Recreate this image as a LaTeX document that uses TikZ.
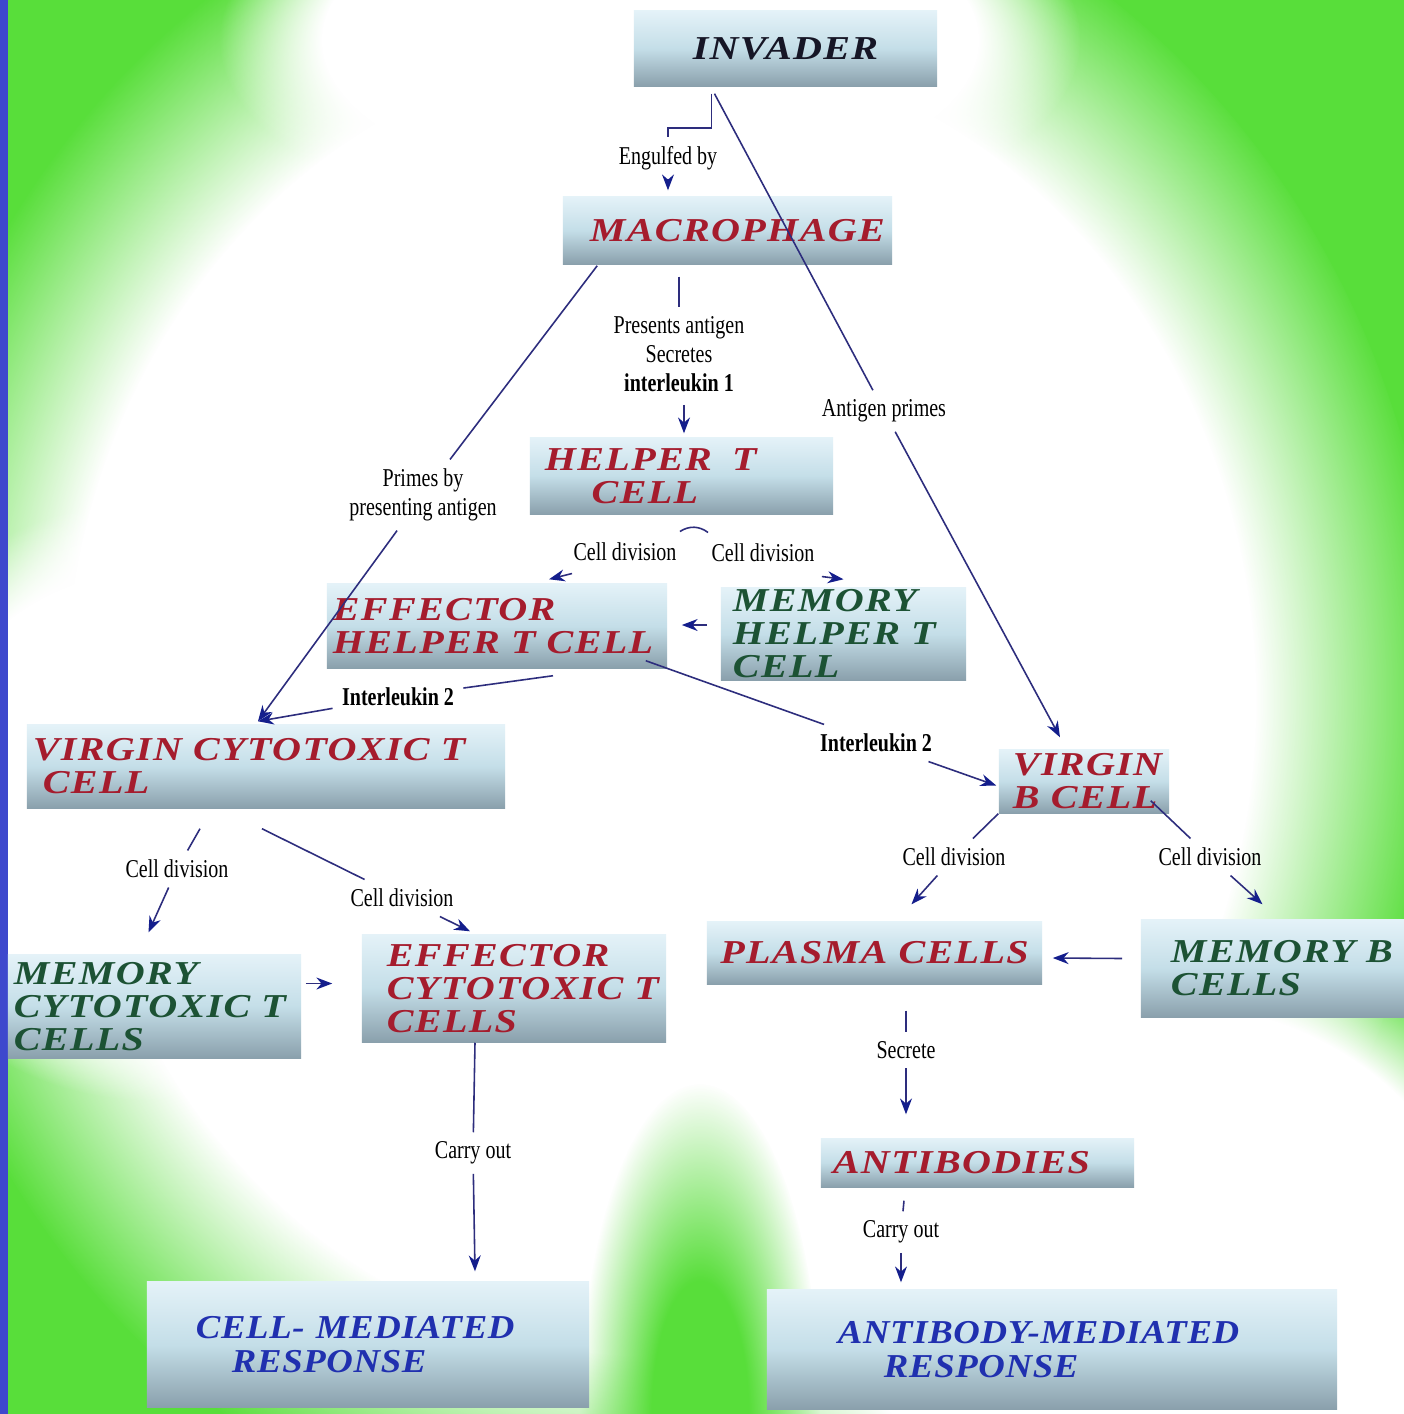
\documentclass[tikz,border=0pt]{standalone}
\usepackage{fontspec}
\setmainfont{Liberation Serif}
\newfontfamily\cellfont[LetterSpace=4,FakeStretch=1.2]{Liberation Serif}
\newfontfamily\respfont[LetterSpace=2,FakeStretch=1.1]{Liberation Serif}
\newfontfamily\notefont[FakeStretch=0.78]{Liberation Serif}
\usetikzlibrary{arrows.meta, positioning, calc, fadings}
\definecolor{bggreen}{RGB}{88,222,58}
\definecolor{edgeblue}{RGB}{62,72,205}
\definecolor{boxtop}{RGB}{228,242,248}
\definecolor{boxmid}{RGB}{196,222,232}
\definecolor{boxbot}{RGB}{138,160,172}
\definecolor{cellred}{RGB}{165,28,45}
\definecolor{cellgreen}{RGB}{28,82,52}
\definecolor{cellblue}{RGB}{32,48,175}
\definecolor{cellblack}{RGB}{22,22,38}
\definecolor{linknavy}{RGB}{45,45,125}
\definecolor{tipnavy}{RGB}{20,30,140}
\pgfdeclareradialshading{plateau}{\pgfpoint{0bp}{0bp}}{color(0bp)=(white); color(19bp)=(white); color(25bp)=(black); color(50bp)=(black)}
\pgfdeclarefading{plateaufade}{\pgfuseshading{plateau}}
\pgfdeclareradialshading{softspot}{\pgfpoint{0bp}{0bp}}{color(0bp)=(white); color(10bp)=(white); color(25bp)=(black); color(50bp)=(black)}
\pgfdeclarefading{softfade}{\pgfuseshading{softspot}}

\begin{document}
\begin{tikzpicture}[x=0.01cm, y=-0.01cm,
        cell/.style={rectangle, top color=boxtop, bottom color=boxbot, middle color=boxmid, align=left, inner ysep=0pt, font=\cellfont\bfseries\itshape\fontsize{9.5}{9.4}\selectfont},
        resp/.style={cell, font=\respfont\bfseries\itshape\fontsize{9.5}{9.6}\selectfont, text=cellblue},
        note/.style={font=\notefont\fontsize{7.3}{8.2}\selectfont, align=center, inner sep=2.5pt},
        notebf/.style={note, font=\notefont\bfseries\fontsize{7.3}{8.2}\selectfont},
        glowspot/.style={fill=white, path fading=plateaufade},
        link/.style={draw=linknavy, line width=0.45pt},
        arrow/.style={link, -{Stealth[length=4.5pt, width=3.4pt, color=tipnavy]}}
    ]
        \useasboundingbox (0,0) rectangle (1404,1414);
        % background: green with a white glow
        \fill[bggreen] (0,0) rectangle (1404,1414);
        \path[glowspot] (660,700) ellipse (780 and 860);
        \path[glowspot] (650,40) ellipse (430 and 200);
        \path[glowspot] (150,800) ellipse (300 and 300);
        \path[glowspot] (1150,1260) ellipse (420 and 340);
        \fill[bggreen, path fading=softfade] (700,1414) ellipse (120 and 330);
        \fill[edgeblue] (0,0) rectangle (8,1414);

        % cells
        \node[cell, text=cellblack, align=center, inner xsep=0.1cm, text width=2.83cm, minimum height=0.75cm] (invader) at (785.5,48.5) {INVADER};
        \node[cell, text=cellred, inner xsep=0.27cm, text width=2.75cm, minimum height=0.67cm] (macro) at (727.5,230.5) {MACROPHAGE};
        \node[cell, text=cellred, inner xsep=0.15cm, text width=2.73cm, minimum height=0.76cm] (helper) at (681.5,476) {HELPER\hspace{0.6em}T\\\hspace*{1.4em}CELL};
        \node[cell, text=cellred, inner xsep=0.06cm, text width=3.28cm, minimum height=0.84cm] (effhelp) at (497,626) {EFFECTOR\\HELPER~T~CELL};
        \node[cell, text=cellgreen, inner xsep=0.12cm, text width=2.21cm, minimum height=0.92cm] (memhelp) at (843.5,634) {MEMORY\\HELPER~T\\CELL};
        \node[cell, text=cellred, inner xsep=0.06cm, text width=4.66cm, minimum height=0.83cm] (vct) at (266,766.5) {VIRGIN~CYTOTOXIC~T\\\hspace*{0.3em}CELL};
        \node[cell, text=cellred, inner xsep=0.14cm, text width=1.42cm, minimum height=0.63cm] (vb) at (1084,781.5) {VIRGIN\\B~CELL};
        \node[cell, text=cellred, align=center, inner xsep=0.1cm, text width=3.15cm, minimum height=0.62cm] (plasma) at (874.5,953) {PLASMA~CELLS};
        \node[cell, text=cellgreen, inner xsep=0.3cm, text width=2.03cm, minimum height=0.97cm] (memb) at (1272.5,968.5) {MEMORY~B\\CELLS};
        \node[cell, text=cellgreen, inner xsep=0.06cm, text width=2.81cm, minimum height=1.03cm] (mct) at (154.5,1006.5) {MEMORY\\CYTOTOXIC~T\\CELLS};
        \node[cell, text=cellred, inner xsep=0.25cm, text width=2.54cm, minimum height=1.07cm] (ect) at (514,988.5) {EFFECTOR\\CYTOTOXIC~T\\CELLS};
        \node[cell, text=cellred, inner xsep=0.12cm, text width=2.89cm, minimum height=0.49cm] (antib) at (977.5,1162.5) {ANTIBODIES};
        \node[resp, inner xsep=0.49cm, text width=3.44cm, minimum height=1.25cm] (cmr) at (368,1344.5) {CELL-~MEDIATED\\\hspace*{0.36cm}RESPONSE};
        \node[resp, inner xsep=0.71cm, text width=4.28cm, minimum height=1.19cm] (amr) at (1052,1349.5) {ANTIBODY-MEDIATED\\\hspace*{0.46cm}RESPONSE};

        % connector labels
        \node[note] (lengulf) at (668,158) {Engulfed by};
        \node[note] (lantigen) at (884,411) {Antigen primes};
        \node[note] (lpresents) at (679,354) {Presents antigen\\Secretes\\\textbf{interleukin 1}};
        \node[note] (lprimes) at (423,495) {Primes by\\presenting antigen};
        \node[note] (lcdl) at (625,552) {Cell division};
        \node[note] (lcdr) at (763,553) {Cell division};
        \node[notebf] (lila) at (398,697) {Interleukin 2};
        \node[notebf] (lilb) at (876,743) {Interleukin 2};
        \node[note] (lcdvb1) at (954,857) {Cell division};
        \node[note] (lcdvb2) at (1210,857) {Cell division};
        \node[note] (lcdvct1) at (177,869) {Cell division};
        \node[note] (lcdvct2) at (402,898) {Cell division};
        \node[note] (lsecrete) at (906,1050) {Secrete};
        \node[note] (lcarry1) at (473,1153) {Carry out};
        \node[note] (lcarry2) at (901,1232) {Carry out};

        % connectors
        \draw[link] ($(invader.south)+(-74,7)$) -- ++(0,34) -| (lengulf.north);
        \draw[arrow] (lengulf.south) -- ($(lengulf.south |- macro.north)+(0,-6)$);
        \draw[link] ($(invader.south)+(-71,7)$) -- (lantigen);
        \draw[arrow] (lantigen) -- ($(vb.north)+(-24,-12)$);
        \draw[link] ($(macro.south -| lpresents)+(0,12)$) -- (lpresents);
        \draw[arrow] ($(lpresents.south)+(5,4)$) -- ($(lpresents.south |- helper.north)+(5,-4)$);
        \draw[link] ($(macro.south west)+(35,1)$) -- (lprimes);
        \draw[arrow] (lprimes) -- ($(vct.north)+(-8,-3)$);
        \draw[link] ($(lcdl.north east)+(-6,-2)$) to[bend left=35] ($(lcdr.north west)+(6,-2)$);
        \draw[arrow] ($(lcdl.south west)+(8,3)$) -- ($(effhelp.north)+(52,-4)$);
        \draw[arrow] ($(lcdr.south east)+(-2,5)$) -- ($(memhelp.north)+(0,-8)$);
        \draw[arrow] ($(memhelp.west)+(-13,-9)$) -- ($(effhelp.east)+(14,-1)$);
        \draw[link] ($(effhelp.south)+(56,7)$) -- (lila);
        \draw[arrow] (lila) -- ($(vct.north)+(-8,-3)$);
        \draw[link] ($(effhelp.south east)+(-22,-8)$) -- (lilb);
        \draw[arrow] (lilb) -- ($(vb.west)+(-2,4)$);
        \draw[link] (vb.south west) -- (lcdvb1);
        \draw[arrow] (lcdvb1) -- ($(plasma.north)+(37,-17)$);
        \draw[link] ($(vb.south east)+(-19,-13)$) -- (lcdvb2);
        \draw[arrow] (lcdvb2) -- ($(memb.north)+(-10,-15)$);
        \draw[arrow] ($(memb.west)+(-18,-10)$) -- ($(plasma.east)+(10,5)$);
        \draw[link] ($(plasma.south -| lsecrete)+(0,26)$) -- (lsecrete);
        \draw[arrow] (lsecrete) -- ($(lsecrete |- antib.north)+(0,-23)$);
        \draw[link] ($(antib.south -| lcarry2)+(3,13)$) -- (lcarry2);
        \draw[arrow] (lcarry2) -- ($(lcarry2 |- amr.north)+(0,-7)$);
        \draw[link] ($(ect.south -| lcarry1)+(2,0)$) -- (lcarry1);
        \draw[arrow] (lcarry1) -- ($(lcarry1 |- cmr.north)+(2,-10)$);
        \draw[link] ($(vct.south)+(-66,20)$) -- (lcdvct1);
        \draw[arrow] (lcdvct1) -- ($(mct.north)+(-6,-22)$);
        \draw[link] ($(vct.south)+(-4,20)$) -- (lcdvct2);
        \draw[arrow] (lcdvct2) -- ($(ect.north)+(-44,-3)$);
        \draw[arrow] ($(mct.east)+(4,-23)$) -- ($(ect.west)+(-29,-5)$);
    \end{tikzpicture}
\end{document}
